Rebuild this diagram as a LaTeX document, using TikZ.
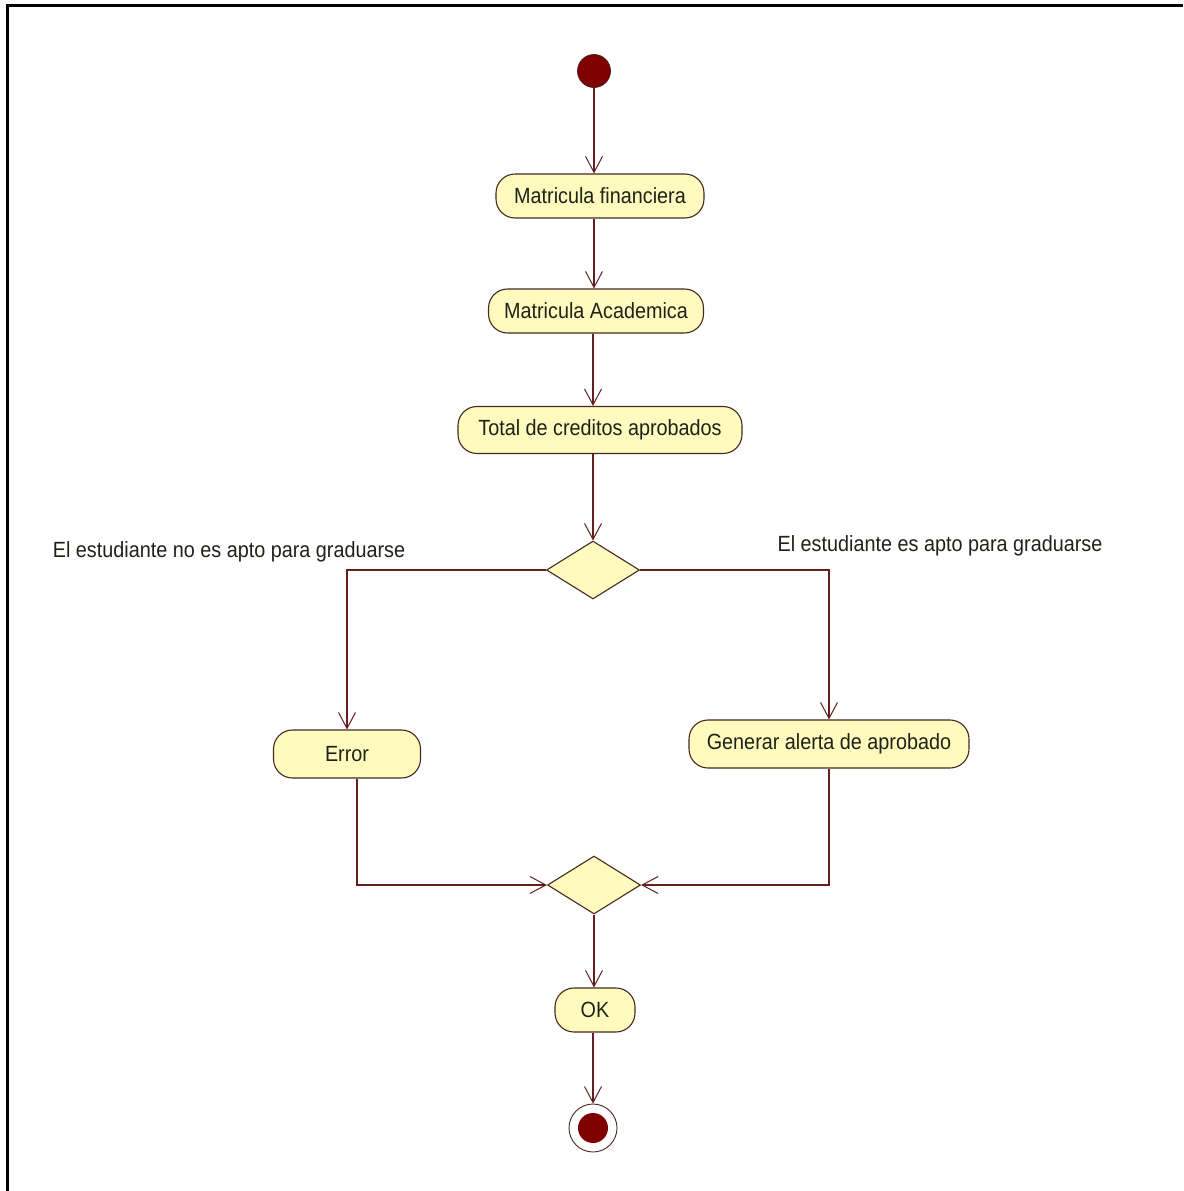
\documentclass[tikz,border=0pt]{standalone}
\usepackage{fontspec}
\setmainfont{Liberation Sans}[FakeStretch=0.9]
\usetikzlibrary{shapes.geometric,arrows.meta}
\definecolor{actfill}{RGB}{255,250,190}
\definecolor{actline}{RGB}{70,40,30}
\definecolor{flow}{RGB}{100,30,30}
\definecolor{dot}{RGB}{128,0,0}
\definecolor{ink}{RGB}{30,35,25}
\tikzset{
  activity/.style={draw=actline, fill=actfill, line width=1.1pt, rounded corners=19pt,
    minimum height=44pt, inner xsep=10pt, font=\fontsize{22}{24}\selectfont, text=ink},
  choice/.style={diamond, draw=actline, fill=actfill, line width=1.1pt, inner sep=0pt,
    minimum width=93pt, minimum height=58pt},
  flowline/.style={draw=flow, line width=1.2pt,
    -{Straight Barb[length=16pt,width=17pt,line width=1pt]}},
  guard/.style={font=\fontsize{22}{24}\selectfont, text=ink, inner sep=0pt},
}
\begin{document}
\begin{tikzpicture}[x=1pt,y=-1pt]
  \useasboundingbox (0,0) rectangle (1183,1191);
  % frame
  \draw[line width=3pt, black] (7,1191) -- (7,5) -- (1183,5);

  % start and end states
  \node (start) [circle, draw=actline, fill=dot, minimum size=33pt, inner sep=0pt, line width=0.8pt] at (594,71) {};
  \node (finish) [circle, draw=actline, fill=white, minimum size=48pt, inner sep=0pt, line width=0.9pt] at (593,1128) {};
  \node (finishdot) [circle, fill=dot, minimum size=30pt, inner sep=0pt] at (593,1128) {};

  % activities
  \node (fin) [activity, minimum width=208pt] at (600,196) {Matricula financiera};
  \node (aca) [activity, minimum width=215pt] at (596,311) {Matricula Academica};
  \node (tot) [activity, minimum width=284pt, minimum height=47pt] at (600,430) {Total de creditos aprobados};
  \node (err) [activity, minimum width=147pt, minimum height=48pt] at (347,754) {Error};
  \node (gen) [activity, minimum width=280pt, minimum height=48pt] at (829,744) {Generar alerta de aprobado};
  \node (ok)  [activity, minimum width=80pt, inner xsep=4pt] at (595,1010) {OK};

  % decision and merge
  \node (d1) [choice] at (593,570) {};
  \node (d2) [choice] at (594,885) {};

  % guards
  \node (gno) [guard] at (229,552) {El estudiante no es apto para graduarse};
  \node (gyes) [guard] at (940,546) {El estudiante es apto para graduarse};

  % flows
  \draw[flowline] (start) -- (start |- fin.north);
  \draw[flowline] (fin.south -| start) -- (aca.north -| start);
  \draw[flowline] (aca.south -| d1) -- (tot.north -| d1);
  \draw[flowline] (tot.south -| d1) -- (d1.north);
  \draw[flowline] (d1.west) -| (err.north);
  \draw[flowline] (d1.east) -| (gen.north);
  \draw[flowline] ([xshift=10pt]err.south) |- (d2.west);
  \draw[flowline] (gen.south) |- (d2.east);
  \draw[flowline] (d2.south) -- (ok.north -| d2);
  \draw[flowline] (ok.south -| finish) -- (finish.north);
\end{tikzpicture}
\end{document}
